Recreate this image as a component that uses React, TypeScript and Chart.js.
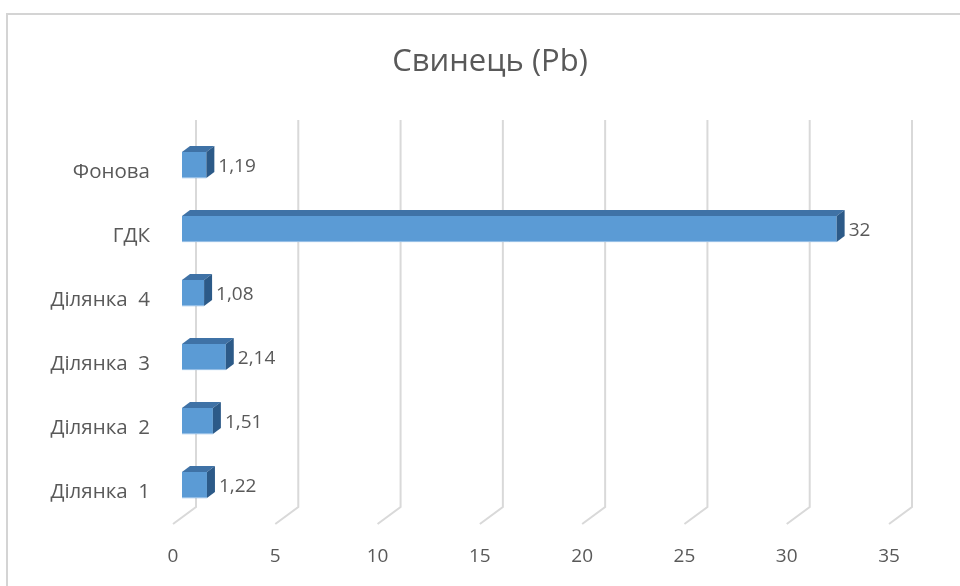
import React, { useEffect, useRef } from "react";
import { Chart, registerables } from "chart.js";

Chart.register(...registerables);

const categories = ["Ділянка  1", "Ділянка  2", "Ділянка  3", "Ділянка  4", "ГДК", "Фонова"];
const values = [1.22, 1.51, 2.14, 1.08, 32, 1.19];
const valueLabels = ["1,22", "1,51", "2,14", "1,08", "32", "1,19"];
const xTicks = [0, 5, 10, 15, 20, 25, 30, 35];
const titleText = "Свинець (Pb)";

const FONT = "'Open Sans', 'Noto Sans', sans-serif";
const TEXT = "#595959";
const GRID = "#d9d9d9";
const FRONT = "#5b9bd5";
const TOP = "#3f72a6";
const SIDE = "#2c5a88";
const DEPTH_X = 8;
const DEPTH_Y = 6;

const frame = {
  id: "frame",
  beforeDraw(chart: any) {
    const ctx = chart.ctx;
    ctx.save();
    ctx.fillStyle = "#ffffff";
    ctx.fillRect(0, 0, chart.width, chart.height);
    ctx.strokeStyle = "#d4d4d4";
    ctx.lineWidth = 2;
    ctx.strokeRect(7, 14, chart.width + 10, chart.height + 10);
    // chart title
    ctx.fillStyle = TEXT;
    ctx.font = `31px ${FONT}`;
    ctx.textAlign = "center";
    ctx.textBaseline = "middle";
    ctx.fillText(titleText, 490, 62);
    ctx.restore();
  },
};

const wallGrid = {
  id: "wallGrid",
  beforeDatasetsDraw(chart: any) {
    const ctx = chart.ctx;
    const xs = chart.scales.x;
    const area = chart.chartArea;
    ctx.save();
    ctx.strokeStyle = GRID;
    ctx.lineWidth = 2;
    xTicks.forEach((v) => {
      const px = xs.getPixelForValue(v);
      const bx = px + 14;
      ctx.beginPath();
      ctx.moveTo(bx, area.top - 13);
      ctx.lineTo(bx, area.bottom - 10);
      ctx.lineTo(px - 9, area.bottom + 7);
      ctx.stroke();
    });
    ctx.restore();
  },
};

const bars3d = {
  id: "bars3d",
  afterDatasetsDraw(chart: any) {
    const ctx = chart.ctx;
    const meta = chart.getDatasetMeta(0);
    ctx.save();
    meta.data.forEach((el: any, i: number) => {
      const { x, y, base, height } = el.getProps(["x", "y", "base", "height"], true);
      const top = y - height / 2;
      const bottom = y + height / 2;
      ctx.fillStyle = TOP;
      ctx.beginPath();
      ctx.moveTo(base, top);
      ctx.lineTo(base + DEPTH_X, top - DEPTH_Y);
      ctx.lineTo(x + DEPTH_X, top - DEPTH_Y);
      ctx.lineTo(x, top);
      ctx.closePath();
      ctx.fill();
      ctx.fillStyle = SIDE;
      ctx.beginPath();
      ctx.moveTo(x, top);
      ctx.lineTo(x + DEPTH_X, top - DEPTH_Y);
      ctx.lineTo(x + DEPTH_X, bottom - DEPTH_Y);
      ctx.lineTo(x, bottom);
      ctx.closePath();
      ctx.fill();
      ctx.strokeStyle = "#9cc3e8";
      ctx.lineWidth = 1;
      ctx.beginPath();
      ctx.moveTo(base, bottom - 0.5);
      ctx.lineTo(x, bottom - 0.5);
      ctx.stroke();
      ctx.fillStyle = TEXT;
      ctx.font = `19px ${FONT}`;
      ctx.textAlign = "left";
      ctx.textBaseline = "middle";
      ctx.fillText(valueLabels[i], x + DEPTH_X + 4, y + 2);
    });
    ctx.restore();
  },
};

export default function App() {
  const ref = useRef<HTMLCanvasElement>(null);
  useEffect(() => {
    if (!ref.current) return;
    const chart = new Chart(ref.current, {
      type: "bar",
      data: {
        labels: categories,
        datasets: [
          {
            data: values,
            backgroundColor: FRONT,
            borderWidth: 0,
            barPercentage: 0.41,
            categoryPercentage: 1,
          },
        ],
      },
      options: {
        indexAxis: "y",
        responsive: false,
        animation: false,
        layout: { padding: { left: 20, right: 62, top: 133, bottom: 0 } },
        plugins: {
          legend: { display: false },
          tooltip: { enabled: false },
          title: { display: false },
        },
        scales: {
          x: {
            min: 0,
            max: 35,
            ticks: {
              stepSize: 5,
              color: TEXT,
              font: { family: FONT, size: 19 },
              padding: 28,
              labelOffset: -9,
            },
            grid: { display: false, drawTicks: false },
            border: { display: false },
            afterFit(scale: any) {
              scale.height = 69;
            },
          },
          y: {
            reverse: true,
            ticks: {
              color: TEXT,
              font: { family: FONT, size: 20.5 },
              padding: 32,
              labelOffset: 7,
            },
            grid: { display: false, drawTicks: false },
            border: { display: false },
            afterFit(scale: any) {
              scale.width = 162;
            },
          },
        },
      },
      plugins: [frame, wallGrid, bars3d],
    });
    return () => chart.destroy();
  }, []);
  return (
    <div style={{ position: "absolute", left: 0, top: 0, width: 960, height: 586 }}>
      <canvas ref={ref} width={960} height={586} style={{ display: "block" }} />
    </div>
  );
}
